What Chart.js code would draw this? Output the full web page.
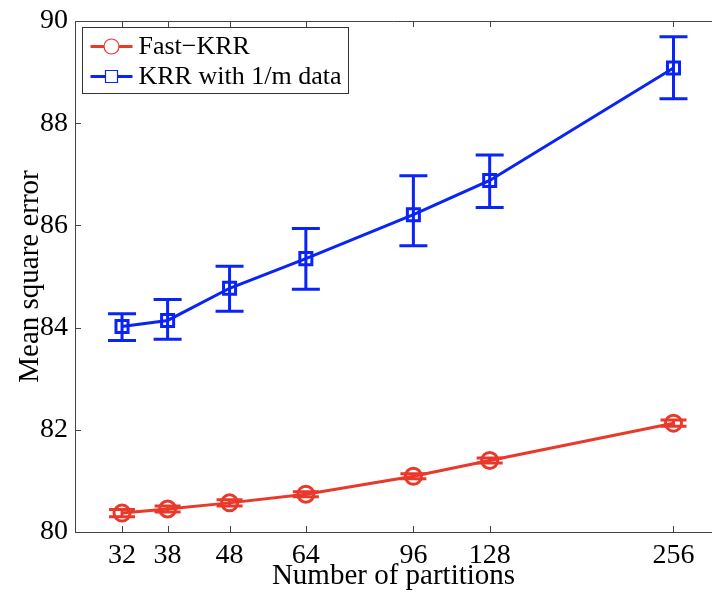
<!DOCTYPE html>
<html lang="en">
<head>
    <meta charset="UTF-8">
    <title>Mean square error vs number of partitions</title>
    <script src="https://cdn.jsdelivr.net/npm/chart.js@4.4.1/dist/chart.umd.min.js"></script>
    <style>
        * { margin: 0; padding: 0; box-sizing: border-box; }
        body { background: #fff; width: 712px; height: 594px; overflow: hidden; }
        .chart-container { position: relative; width: 712px; height: 594px; }
    </style>
</head>
<body>
    <div class="chart-container">
        <canvas id="mseChart" width="712" height="594"></canvas>
    </div>

    <script>
        // Data
        const partitions = [32, 38, 48, 64, 96, 128, 256];
        const xTicks = [32, 38, 48, 64, 96, 128, 256];
        const yTicks = [80, 82, 84, 86, 88, 90];

        const fastKrrMse  = [80.37, 80.45, 80.57, 80.74, 81.09, 81.40, 82.13];
        const fastKrrLow  = [80.30, 80.39, 80.51, 80.69, 81.04, 81.35, 82.07];
        const fastKrrHigh = [80.44, 80.51, 80.63, 80.79, 81.14, 81.45, 82.19];

        const krrMse  = [84.02, 84.14, 84.77, 85.35, 86.21, 86.88, 89.08];
        const krrLow  = [83.75, 83.77, 84.32, 84.75, 85.60, 86.35, 88.48];
        const krrHigh = [84.27, 84.55, 85.20, 85.94, 86.97, 87.38, 89.69];

        const red = '#e8392b';
        const blue = '#0a24f5';
        const axisColor = '#444';
        const serif = '"Liberation Serif", "Times New Roman", serif';

        function toPoints(xs, ys) {
            return xs.map((x, i) => ({ x: x, y: ys[i] }));
        }

        // vertical error bars with caps, drawn through the chart's scales
        const errorBars = {
            id: 'errorBars',
            beforeDatasetsDraw(chart) {
                const ctx = chart.ctx;
                const xs = chart.scales.x, ys = chart.scales.y;
                chart.data.datasets.forEach(ds => {
                    const half = ds.capWidth / 2;
                    ctx.save();
                    ctx.strokeStyle = ds.borderColor;
                    ctx.lineWidth = 3;
                    ds.data.forEach((p, i) => {
                        const px = xs.getPixelForValue(p.x);
                        const lo = ys.getPixelForValue(ds.errLow[i]);
                        const hi = ys.getPixelForValue(ds.errHigh[i]);
                        ctx.beginPath();
                        ctx.moveTo(px, lo); ctx.lineTo(px, hi);
                        ctx.moveTo(px - half, lo); ctx.lineTo(px + half, lo);
                        ctx.moveTo(px - half, hi); ctx.lineTo(px + half, hi);
                        ctx.stroke();
                    });
                    ctx.restore();
                });
            }
        };

        // MATLAB-style box: top edge and inward ticks
        const axisBox = {
            id: 'axisBox',
            afterDraw(chart) {
                const ctx = chart.ctx;
                const a = chart.chartArea;
                const xs = chart.scales.x, ys = chart.scales.y;
                const len = 6;
                ctx.save();
                ctx.strokeStyle = axisColor;
                ctx.lineWidth = 1;
                ctx.beginPath();
                ctx.moveTo(a.left, a.top + 0.5); ctx.lineTo(a.right, a.top + 0.5);
                xTicks.forEach(v => {
                    const px = Math.round(xs.getPixelForValue(v)) + 0.5;
                    ctx.moveTo(px, a.bottom); ctx.lineTo(px, a.bottom - len);
                    ctx.moveTo(px, a.top); ctx.lineTo(px, a.top + len);
                });
                yTicks.forEach(v => {
                    const py = Math.round(ys.getPixelForValue(v)) + 0.5;
                    ctx.moveTo(a.left, py); ctx.lineTo(a.left + len, py);
                });
                ctx.stroke();
                ctx.restore();
            }
        };

        // boxed legend in the upper left corner
        const boxLegend = {
            id: 'boxLegend',
            afterDraw(chart) {
                const ctx = chart.ctx;
                const a = chart.chartArea;
                const x0 = a.left + 7.5, y0 = a.top + 6.5, w = 266, h = 66;
                ctx.save();
                ctx.fillStyle = '#fff';
                ctx.fillRect(x0, y0, w, h);
                ctx.strokeStyle = '#333';
                ctx.lineWidth = 1;
                ctx.strokeRect(x0, y0, w, h);
                ctx.font = '26px ' + serif;
                ctx.textBaseline = 'middle';
                chart.data.datasets.forEach((ds, i) => {
                    const cy = y0 + 19 + i * 30;
                    ctx.strokeStyle = ds.borderColor;
                    ctx.lineWidth = 3;
                    ctx.beginPath();
                    ctx.moveTo(x0 + 8, cy); ctx.lineTo(x0 + 50, cy);
                    ctx.stroke();
                    ctx.lineWidth = 1.2;
                    ctx.fillStyle = '#fff';
                    ctx.beginPath();
                    if (ds.pointStyle === 'rect') {
                        ctx.rect(x0 + 23, cy - 6, 12, 12);
                    } else {
                        ctx.arc(x0 + 29, cy, 7.5, 0, Math.PI * 2);
                    }
                    ctx.fill();
                    ctx.stroke();
                    ctx.fillStyle = '#000';
                    ctx.fillText(ds.label, x0 + 56, cy + 1);
                });
                ctx.restore();
            }
        };

        const ctx = document.getElementById('mseChart').getContext('2d');
        new Chart(ctx, {
            type: 'line',
            data: {
                datasets: [{
                    label: 'Fast\u2212KRR',
                    data: toPoints(partitions, fastKrrMse),
                    errLow: fastKrrLow,
                    errHigh: fastKrrHigh,
                    capWidth: 26,
                    borderColor: red,
                    borderWidth: 3,
                    pointStyle: 'circle',
                    pointRadius: 8,
                    pointBorderWidth: 3,
                    pointBackgroundColor: 'rgba(0,0,0,0)',
                    pointBorderColor: red,
                    tension: 0
                }, {
                    label: 'KRR with 1/m data',
                    data: toPoints(partitions, krrMse),
                    errLow: krrLow,
                    errHigh: krrHigh,
                    capWidth: 28,
                    borderColor: blue,
                    borderWidth: 3,
                    pointStyle: 'rect',
                    pointRadius: 8.5,
                    pointBorderWidth: 3,
                    pointBackgroundColor: 'rgba(0,0,0,0)',
                    pointBorderColor: blue,
                    tension: 0
                }]
            },
            options: {
                responsive: false,
                animation: false,
                devicePixelRatio: 1,
                layout: {
                    autoPadding: false,
                    padding: { top: 21, right: 0, left: 0, bottom: 0 }
                },
                plugins: {
                    legend: { display: false },
                    tooltip: { enabled: false }
                },
                scales: {
                    x: {
                        type: 'logarithmic',
                        min: 26.8,
                        max: 296,
                        afterBuildTicks: scale => {
                            scale.ticks = xTicks.map(v => ({ value: v }));
                        },
                        afterFit: scale => {
                            scale.height = 62;
                            scale.paddingLeft = 0;
                            scale.paddingRight = 0;
                        },
                        grid: { drawOnChartArea: false, drawTicks: false },
                        border: { display: true, color: axisColor, width: 1 },
                        ticks: {
                            autoSkip: false,
                            maxRotation: 0,
                            padding: 7,
                            color: '#000',
                            font: { family: serif, size: 28 },
                            callback: v => String(v)
                        },
                        title: {
                            display: true,
                            text: 'Number of partitions',
                            color: '#000',
                            padding: { top: 0, bottom: 0 },
                            font: { family: serif, size: 29 }
                        }
                    },
                    y: {
                        min: 80,
                        max: 90,
                        afterBuildTicks: scale => {
                            scale.ticks = yTicks.map(v => ({ value: v }));
                        },
                        afterFit: scale => {
                            scale.width = 75;
                            scale.paddingTop = 0;
                            scale.paddingBottom = 0;
                        },
                        grid: { drawOnChartArea: false, drawTicks: false },
                        border: { display: true, color: axisColor, width: 1 },
                        ticks: {
                            padding: 7,
                            color: '#000',
                            font: { family: serif, size: 28 }
                        },
                        title: {
                            display: true,
                            text: 'Mean square error',
                            color: '#000',
                            padding: { top: 13, bottom: 0 },
                            font: { family: serif, size: 29 }
                        }
                    }
                }
            },
            plugins: [errorBars, axisBox, boxLegend]
        });
    </script>
</body>
</html>
